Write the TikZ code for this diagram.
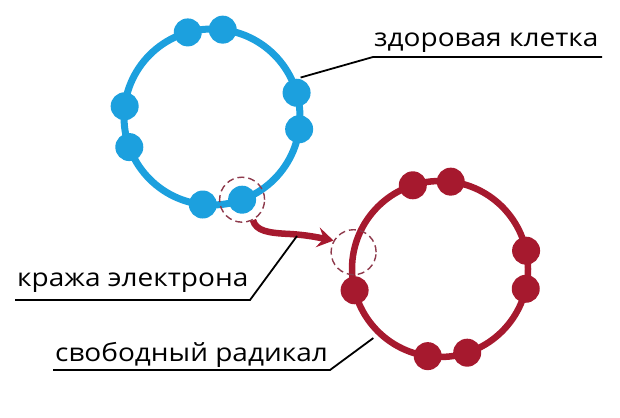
\documentclass[tikz,border=0pt]{standalone}
\usepackage{fontspec}
\setmainfont[FakeStretch=1.12]{Open Sans}
\usetikzlibrary{arrows.meta}
\definecolor{cellblue}{HTML}{1CA0DE}
\definecolor{radred}{HTML}{A6192E}
\definecolor{holered}{HTML}{8E3A4C}
\tikzset{
  bdot/.style={circle,fill=cellblue,inner sep=0pt,minimum size=28pt},
  rdot/.style={circle,fill=radred,inner sep=0pt,minimum size=28pt},
  hole/.style={circle,draw=holered,dash pattern=on 7pt off 4pt,line width=1.4pt,inner sep=0pt,minimum size=45pt},
  lbl/.style={anchor=base west,inner sep=0pt,font=\fontsize{25}{30}\selectfont},
  lead/.style={black,line width=1.8pt}
}
\begin{document}
\begin{tikzpicture}[x=1pt,y=1pt]
  \useasboundingbox (0,0) rectangle (620,417);
  \coordinate (blue) at (212,300);
  \coordinate (red) at (440,148);
  \draw[cellblue,line width=7pt] (blue) circle (88);
  \draw[radred,line width=6.5pt] (red) circle (88);
  \foreach \a [count=\i] in {106,83,16,-8,173,200,264,290}
    \path (blue) ++(\a:88) node[bdot] (b\i) {};
  \foreach \a [count=\i] in {108,83,12,-13,194,262,288}
    \path (red) ++(\a:88) node[rdot] (r\i) {};
  \node[hole] (steal) at (b8) {};
  \path (red) ++(169:88) node[hole] (slot) {};
  \draw[radred,line width=6.5pt,-{Stealth[length=16pt,width=20pt,inset=6pt]}] (steal.-62) .. controls (256,186) and (268,184) .. (290,183) .. controls (306,182) and (316,180) .. (slot.150);
  % labels
  \node[lbl] (healthy) at (374,370) {здоровая клетка};
  \node[lbl] (theft) at (17,130) {кража электрона};
  \node[lbl] (radical) at (55,55) {свободный радикал};
  \path (blue) ++(24:97) coordinate (hc);
  \coordinate (hk) at (373,360);
  \coordinate (he) at (602,360);
  \draw[lead] (hc) -- (hk) -- (he);
  \coordinate (tc) at (297,181);
  \coordinate (tk) at (250,117);
  \coordinate (te) at (15,117);
  \draw[lead] (tc) -- (tk) -- (te);
  \path (red) ++(226:96) coordinate (rc);
  \coordinate (rk) at (330,47);
  \coordinate (re) at (53,47);
  \draw[lead] (rc) -- (rk) -- (re);
\end{tikzpicture}
\end{document}
